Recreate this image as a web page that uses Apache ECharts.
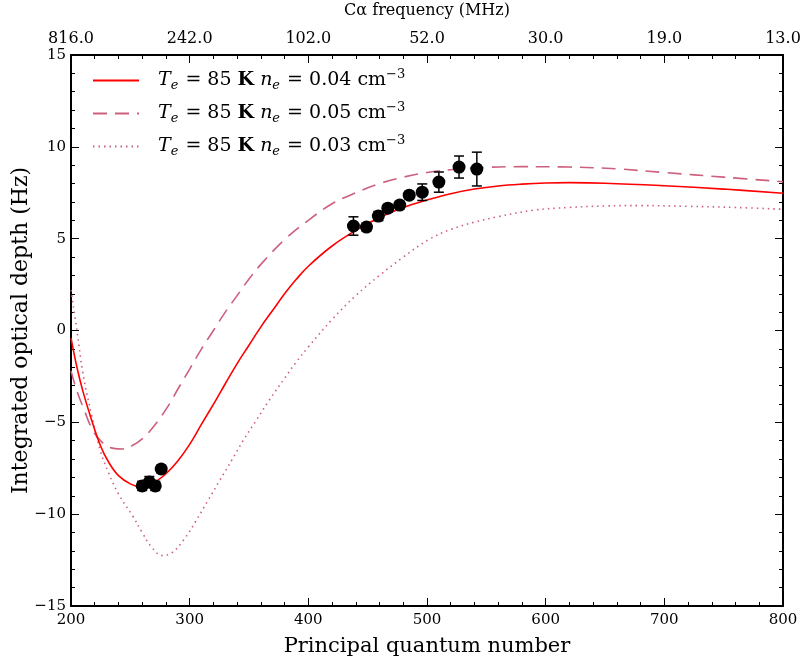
<!DOCTYPE html>
<html>
<head>
<meta charset="utf-8">
<script src="https://cdn.jsdelivr.net/npm/echarts@6/dist/echarts.min.js"></script>
<style>
  html, body { margin: 0; padding: 0; background: #fff; }
  #chart { width: 805px; height: 658px; }
</style>
</head>
<body>
<div id="chart"></div>
<script>
// Model curves: [principal quantum number, integrated optical depth (Hz)]
const modelNe004 = [
  [200, -0.4], [205, -2.0], [210, -3.3], [217, -4.8], [225, -6.3], [232, -7.2], [240, -7.9],
  [250, -8.35], [258, -8.5], [265, -8.45], [272, -8.2], [280, -7.8], [290, -7.1],
  [300, -6.2], [310, -5.1], [322, -3.8], [330, -2.9], [340, -1.8], [350, -0.8],
  [360, 0.2], [370, 1.1], [380, 2.0], [390, 2.8], [400, 3.5], [420, 4.6], [440, 5.45],
  [460, 6.15], [480, 6.7], [500, 7.1], [520, 7.45], [540, 7.7], [560, 7.87],
  [580, 7.97], [600, 8.03], [620, 8.05], [650, 8.02], [700, 7.88], [750, 7.7], [800, 7.47]
];
const modelNe005 = [
  [200, -2.2], [205, -3.3], [211, -4.3], [218, -5.4], [225, -6.0], [232, -6.35], [243, -6.45],
  [252, -6.25], [260, -5.9], [270, -5.2], [281, -4.2], [290, -3.2], [300, -2.1],
  [310, -1.0], [320, 0.0], [330, 1.0], [340, 1.9], [350, 2.8], [360, 3.6], [380, 4.95],
  [400, 6.0], [420, 6.9], [440, 7.5], [460, 8.0], [480, 8.35], [500, 8.6], [520, 8.75],
  [550, 8.88], [580, 8.92], [620, 8.9], [660, 8.8], [700, 8.6], [750, 8.35], [800, 8.1]
];
const modelNe003 = [
  [200, 2.2], [205, 0.0], [210, -2.3], [217, -4.5], [225, -6.6], [232, -7.8], [240, -8.9],
  [252, -10.1], [260, -11.0], [268, -11.8], [277, -12.25], [285, -12.1], [295, -11.4],
  [305, -10.4], [315, -9.3], [325, -8.2], [336, -7.0], [345, -6.0], [355, -5.0],
  [367, -3.8], [380, -2.6], [390, -1.7], [400, -0.9], [420, 0.6], [440, 1.9],
  [460, 3.0], [480, 4.0], [502, 4.97], [520, 5.5], [540, 5.9], [560, 6.2], [590, 6.55],
  [620, 6.7], [650, 6.78], [680, 6.8], [720, 6.76], [760, 6.7], [800, 6.6]
];

// Measured line depths: [n, value, 1-sigma error]
const measurements = [
  [260, -8.46, 0.25], [266, -8.25, 0.3], [271, -8.46, 0.25], [276, -7.54, 0.2],
  [438, 5.69, 0.5], [449, 5.63, 0.2], [459, 6.23, 0.25], [467, 6.66, 0.2],
  [477, 6.83, 0.2], [485, 7.37, 0.2], [496, 7.53, 0.45], [510, 8.08, 0.55],
  [527, 8.9, 0.6], [542, 8.79, 0.92]
];

// Top axis: C-alpha frequency at n = 200, 300, ..., 800
const freqTickLabels = ['816.0', '242.0', '102.0', '52.0', '30.0', '19.0', '13.0'];
const densities = ['0.04', '0.05', '0.03'];
const seriesNames = ['ne004', 'ne005', 'ne003'];

const serif = 'DejaVu Serif';
const pink = '#cd607d';

const frame = { show: true, onZero: false, lineStyle: { color: '#000', width: 2 } };
const majorTick = { show: true, inside: true, length: 8, lineStyle: { color: '#000', width: 1 } };
const minorTick = { show: true, splitNumber: 5, length: 4, lineStyle: { color: '#000', width: 1 } };

const chart = echarts.init(document.getElementById('chart'), null, { renderer: 'canvas' });

chart.setOption({
  animation: false,
  backgroundColor: '#fff',
  grid: { left: 71, right: 22, top: 55, bottom: 52, containLabel: false, outerBoundsMode: 'none' },
  legend: {
    orient: 'vertical',
    left: 87,
    top: 63,
    itemWidth: 46,
    itemHeight: 14,
    itemGap: 9,
    data: seriesNames,
    itemStyle: { opacity: 0 },
    formatter: function (name) {
      const d = densities[seriesNames.indexOf(name)];
      return '{i|T}{sub|e}{r| = 85 }{b|K}{r| }{i|n}{sub|e}{r| = ' + d + ' cm}{sup|−3}';
    },
    textStyle: {
      color: '#000',
      fontFamily: serif,
      fontSize: 19,
      padding: [0, 0, 0, 14],
      rich: {
        r: { fontFamily: serif, fontSize: 19, color: '#000' },
        i: { fontFamily: serif, fontStyle: 'italic', fontSize: 19, color: '#000' },
        b: { fontFamily: serif, fontWeight: 'bold', fontSize: 19, color: '#000' },
        sub: { fontFamily: serif, fontStyle: 'italic', fontSize: 13, color: '#000', padding: [10, 1, 0, 0] },
        sup: { fontFamily: serif, fontSize: 13, color: '#000', padding: [0, 0, 12, 0] }
      }
    }
  },
  xAxis: [
    {
      type: 'value', position: 'bottom', min: 200, max: 800, interval: 100,
      name: 'Principal quantum number', nameLocation: 'middle', nameGap: 30, nameMoveOverlap: false,
      nameTextStyle: { fontFamily: serif, fontSize: 21, color: '#000' },
      axisLine: frame, axisTick: majorTick, minorTick: minorTick,
      splitLine: { show: false },
      axisLabel: { fontFamily: serif, fontSize: 15, color: '#000', margin: 7 }
    },
    {
      type: 'value', position: 'top', min: 200, max: 800, interval: 100,
      name: 'C\u03b1 frequency (MHz)', nameLocation: 'middle', nameGap: 36, nameMoveOverlap: false,
      nameTextStyle: { fontFamily: serif, fontSize: 16, color: '#000' },
      axisLine: frame, axisTick: majorTick, minorTick: minorTick,
      splitLine: { show: false },
      axisLabel: {
        fontFamily: serif, fontSize: 16, color: '#000', margin: 8,
        formatter: function (v) { return freqTickLabels[Math.round((v - 200) / 100)]; }
      }
    }
  ],
  yAxis: [
    {
      type: 'value', position: 'left', min: -15, max: 15, interval: 5,
      name: 'Integrated optical depth (Hz)', nameLocation: 'middle', nameGap: 39, nameMoveOverlap: false,
      nameTextStyle: { fontFamily: serif, fontSize: 22, color: '#000' },
      axisLine: frame, axisTick: majorTick, minorTick: minorTick,
      splitLine: { show: false },
      axisLabel: {
        fontFamily: serif, fontSize: 15, color: '#000', margin: 5,
        formatter: function (v) { return String(v).replace('-', '\u2212'); }
      }
    },
    {
      type: 'value', position: 'right', min: -15, max: 15, interval: 5,
      axisLine: frame, axisTick: majorTick, minorTick: minorTick,
      splitLine: { show: false }, axisLabel: { show: false }
    }
  ],
  series: [
    {
      name: 'ne004', type: 'line', data: modelNe004, smooth: 0.4, showSymbol: false, symbol: 'none',
      lineStyle: { color: '#ff0000', width: 1.6 }, itemStyle: { color: '#ff0000' }, z: 3
    },
    {
      name: 'ne005', type: 'line', data: modelNe005, smooth: 0.4, showSymbol: false, symbol: 'none',
      lineStyle: { color: pink, width: 1.6, type: [14, 8] }, itemStyle: { color: pink }, z: 2
    },
    {
      name: 'ne003', type: 'line', data: modelNe003, smooth: 0.4, showSymbol: false, symbol: 'none',
      lineStyle: { color: pink, width: 1.6, type: [1.5, 4] }, itemStyle: { color: pink }, z: 2
    },
    {
      name: 'errors', type: 'custom', z: 4,
      data: measurements,
      renderItem: function (params, api) {
        const x = api.value(0), y = api.value(1), e = api.value(2);
        const lo = api.coord([x, y - e]);
        const hi = api.coord([x, y + e]);
        const cap = 5;
        const st = { stroke: '#000', lineWidth: 1.5 };
        return {
          type: 'group',
          children: [
            { type: 'line', shape: { x1: lo[0], y1: lo[1], x2: hi[0], y2: hi[1] }, style: st },
            { type: 'line', shape: { x1: lo[0] - cap, y1: lo[1], x2: lo[0] + cap, y2: lo[1] }, style: st },
            { type: 'line', shape: { x1: hi[0] - cap, y1: hi[1], x2: hi[0] + cap, y2: hi[1] }, style: st }
          ]
        };
      }
    },
    {
      name: 'points', type: 'scatter', z: 5,
      data: measurements.map(function (m) { return [m[0], m[1]]; }),
      symbol: 'circle', symbolSize: 13,
      itemStyle: { color: '#000', opacity: 1 }
    }
  ]
});
</script>
</body>
</html>
